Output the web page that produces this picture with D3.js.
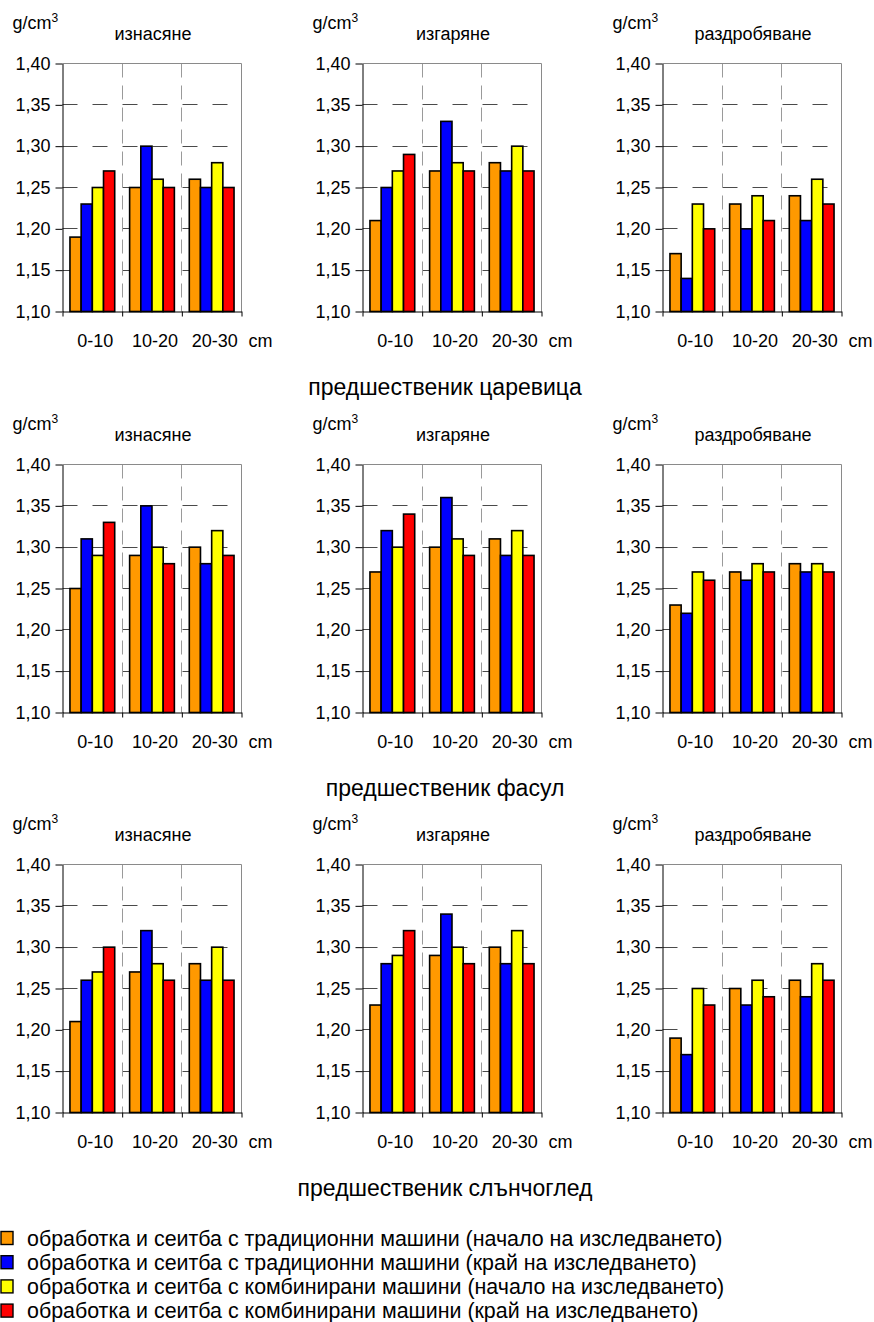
<!DOCTYPE html>
<html><head><meta charset="utf-8">
<script src="https://cdn.jsdelivr.net/npm/d3@7"></script>
<style>
body{margin:0;background:#fff}
svg{display:block}
text{font-family:Arial,"Liberation Sans",sans-serif;fill:#000}
</style>
</head><body><div id="chart"></div>
<script>
// ---------- data ----------
const depths = ["0-10", "10-20", "20-30"];
const methods = ["изнасяне", "изгаряне", "раздробяване"];
const predecessors = ["предшественик царевица", "предшественик фасул", "предшественик слънчоглед"];
const seriesNames = [
  "обработка и сеитба с традиционни машини (начало на изследването)",
  "обработка и сеитба с традиционни машини (край на изследването)",
  "обработка и сеитба с комбинирани машини (начало на изследването)",
  "обработка и сеитба с комбинирани машини (край на изследването)"
];
const seriesColors = ["#FF9900", "#0000FF", "#FFFF00", "#FF0000"];
const yTicks = [1.10, 1.15, 1.20, 1.25, 1.30, 1.35, 1.40];

// values per depth: [trad start, trad end, comb start, comb end]
const corn_iznasyane     = [[1.19, 1.23, 1.25, 1.27], [1.25, 1.30, 1.26, 1.25], [1.26, 1.25, 1.28, 1.25]];
const corn_izgaryane     = [[1.21, 1.25, 1.27, 1.29], [1.27, 1.33, 1.28, 1.27], [1.28, 1.27, 1.30, 1.27]];
const corn_razdrobyavane = [[1.17, 1.14, 1.23, 1.20], [1.23, 1.20, 1.24, 1.21], [1.24, 1.21, 1.26, 1.23]];
const bean_iznasyane     = [[1.25, 1.31, 1.29, 1.33], [1.29, 1.35, 1.30, 1.28], [1.30, 1.28, 1.32, 1.29]];
const bean_izgaryane     = [[1.27, 1.32, 1.30, 1.34], [1.30, 1.36, 1.31, 1.29], [1.31, 1.29, 1.32, 1.29]];
const bean_razdrobyavane = [[1.23, 1.22, 1.27, 1.26], [1.27, 1.26, 1.28, 1.27], [1.28, 1.27, 1.28, 1.27]];
const sun_iznasyane      = [[1.21, 1.26, 1.27, 1.30], [1.27, 1.32, 1.28, 1.26], [1.28, 1.26, 1.30, 1.26]];
const sun_izgaryane      = [[1.23, 1.28, 1.29, 1.32], [1.29, 1.34, 1.30, 1.28], [1.30, 1.28, 1.32, 1.28]];
const sun_razdrobyavane  = [[1.19, 1.17, 1.25, 1.23], [1.25, 1.23, 1.26, 1.24], [1.26, 1.24, 1.28, 1.26]];

const panels = [
  [corn_iznasyane, corn_izgaryane, corn_razdrobyavane],
  [bean_iznasyane, bean_izgaryane, bean_razdrobyavane],
  [sun_iznasyane, sun_izgaryane, sun_razdrobyavane]
];

// ---------- layout ----------
const W = 874, H = 1322;
const pw = 179, ph = 248;
const colX = [62, 362, 662];
const rowY = [63, 464, 864];

const svg = d3.select("#chart").append("svg").attr("width", W).attr("height", H);

const y = d3.scaleLinear().domain([1.10, 1.40]).range([ph, 0]);
const x0 = d3.scaleBand().domain(depths).range([0, pw]).paddingInner(0.25).paddingOuter(0.125);
const x1 = d3.scaleBand().domain(d3.range(seriesNames.length)).range([0, x0.bandwidth()]);
const fmt = d => d.toFixed(2).replace(".", ",");
const step = x0.step();

panels.forEach((rowData, r) => {
  rowData.forEach((data, c) => {
    const g = svg.append("g").attr("transform", `translate(${colX[c] + 0.5},${rowY[r] + 0.5})`);

    // horizontal dashed gridlines
    g.selectAll("line.grid").data(yTicks.slice(1, -1)).join("line")
      .attr("class", "grid")
      .attr("x1", 0).attr("x2", pw)
      .attr("y1", d => Math.round(y(d))).attr("y2", d => Math.round(y(d)))
      .attr("stroke", "#4a4a4a").attr("stroke-width", 1)
      .attr("stroke-dasharray", "15,15");

    // vertical dashed dividers between depth groups
    g.selectAll("line.vdiv").data([1, 2]).join("line")
      .attr("class", "vdiv")
      .attr("x1", d => Math.round(d * step)).attr("x2", d => Math.round(d * step))
      .attr("y1", 0).attr("y2", ph)
      .attr("stroke", "#9a9a9a").attr("stroke-width", 1)
      .attr("stroke-dasharray", "14,8");

    // top and right border
    g.append("line").attr("x1", 0).attr("x2", pw).attr("y1", 0).attr("y2", 0)
      .attr("stroke", "#8a8a8a");
    g.append("line").attr("x1", pw).attr("x2", pw).attr("y1", 0).attr("y2", ph)
      .attr("stroke", "#8a8a8a");

    // bars
    const groups = g.selectAll("g.depth").data(data).join("g")
      .attr("class", "depth")
      .attr("transform", (d, i) => `translate(${x0(depths[i])},0)`);
    groups.selectAll("rect").data(d => d).join("rect")
      .attr("x", (d, i) => x1(i))
      .attr("y", d => y(d))
      .attr("width", x1.bandwidth())
      .attr("height", d => ph - y(d))
      .attr("fill", (d, i) => seriesColors[i])
      .attr("stroke", "#000").attr("stroke-width", 1.6);

    // y axis
    const ya = g.append("g").call(
      d3.axisLeft(y).tickValues(yTicks).tickFormat(fmt).tickSize(7).tickSizeOuter(0).tickPadding(5)
    );
    ya.select(".domain").attr("stroke", "#000");
    ya.selectAll(".tick line").attr("stroke", "#000");
    ya.selectAll(".tick text").style("font-size", "18px").attr("fill", "#000");

    // x axis: boundary ticks
    const xb = d3.scaleLinear().domain([0, depths.length]).range([0, pw]);
    const xa = g.append("g").attr("transform", `translate(0,${ph})`).call(
      d3.axisBottom(xb).tickValues(d3.range(depths.length + 1)).tickSize(5).tickSizeOuter(0).tickFormat("")
    );
    xa.select(".domain").attr("stroke", "#000");
    xa.selectAll(".tick line").attr("stroke", "#000");

    // x labels
    const xl = g.append("g").attr("transform", `translate(3,${ph})`).call(
      d3.axisBottom(x0).tickSize(0).tickPadding(23)
    );
    xl.select(".domain").remove();
    xl.selectAll(".tick text").style("font-size", "18px").attr("fill", "#000");

    // unit "cm"
    g.append("text").attr("x", pw + 7).attr("y", ph + 35.7)
      .style("font-size", "18px").text("cm");

    // unit g/cm3
    const u = g.append("text").attr("x", -50).attr("y", -35).style("font-size", "18px");
    u.append("tspan").text("g/cm");
    u.append("tspan").attr("dy", -7).style("font-size", "12px").text("3");

    // method subtitle
    g.append("text").attr("x", pw / 2 + 1).attr("y", -24)
      .attr("text-anchor", "middle").style("font-size", "18px").text(methods[c]);
  });

  // predecessor title
  svg.append("text").attr("x", 445).attr("y", rowY[r] + ph + 84)
    .attr("text-anchor", "middle").style("font-size", "23px").text(predecessors[r]);
});

// legend
const lg = svg.append("g").attr("transform", "translate(0,1238)");
const items = lg.selectAll("g").data(seriesNames).join("g")
  .attr("transform", (d, i) => `translate(0,${i * 24.2})`);
items.append("rect").attr("x", 1).attr("y", -6.5).attr("width", 12).attr("height", 13)
  .attr("fill", (d, i) => seriesColors[i]).attr("stroke", "#000").attr("stroke-width", 1.4);
items.append("text").attr("x", 27).attr("y", 7.5).style("font-size", "21.4px").text(d => d);
</script>
</body></html>
